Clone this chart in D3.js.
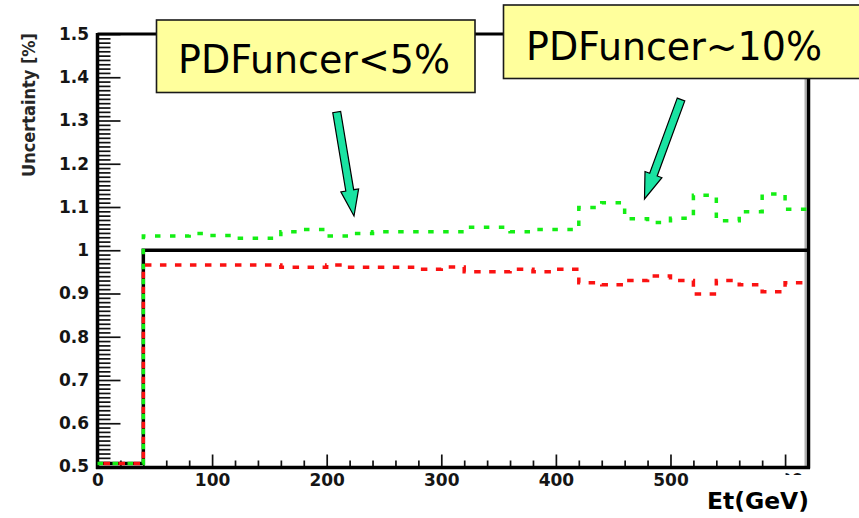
<!DOCTYPE html>
<html>
<head>
<meta charset="utf-8">
<script src="https://cdn.jsdelivr.net/npm/d3@7"></script>
<style>
  html, body { margin: 0; padding: 0; background: #fff; }
  svg { display: block; }
</style>
</head>
<body>
<svg id="chart" width="859" height="518"></svg>
<script>
// Lower edges of the 20 GeV Et bins
const etBins = [0, 20, 40, 60, 80, 100, 120, 140, 160, 180, 200, 220, 240, 260, 280, 300,
                320, 340, 360, 380, 400, 420, 440, 460, 480, 500, 520, 540, 560, 580, 600];
const etMax = 620;

// Central value (ratio = 1 above threshold)
const central = [0, 0, 1, 1, 1, 1, 1, 1, 1, 1, 1, 1, 1, 1, 1, 1,
                 1, 1, 1, 1, 1, 1, 1, 1, 1, 1, 1, 1, 1, 1, 1];

// Upper PDF uncertainty band
const upper = [0, 0, 1.033, 1.033, 1.039, 1.034, 1.028, 1.028, 1.043, 1.048, 1.033, 1.039,
               1.043, 1.043, 1.043, 1.043, 1.053, 1.053, 1.043, 1.048, 1.048, 1.099, 1.110,
               1.073, 1.064, 1.074, 1.127, 1.068, 1.089, 1.130, 1.095];

// Lower PDF uncertainty band
const lower = [0, 0, 0.966, 0.966, 0.966, 0.966, 0.966, 0.966, 0.9605, 0.9605, 0.966, 0.9605,
               0.9605, 0.9605, 0.956, 0.961, 0.9505, 0.9505, 0.956, 0.9505, 0.956, 0.925, 0.920,
               0.930, 0.9405, 0.930, 0.899, 0.930, 0.920, 0.904, 0.925];

const xMajorTicks = [0, 100, 200, 300, 400, 500, 600];
const yMajorTicks = [0.5, 0.6, 0.7, 0.8, 0.9, 1, 1.1, 1.2, 1.3, 1.4, 1.5];

const xTitle = "Et(GeV)";
const yTitle = "Uncertainty [%]";
const notes = ["PDFuncer<5%", "PDFuncer~10%"];

const svg = d3.select("#chart");

const x = d3.scaleLinear().domain([0, etMax]).range([97.5, 808]);
const y = d3.scaleLinear().domain([0.5, 1.5]).range([466.5, 34]);
// underflow is drawn just above the bottom edge of the frame
const yHist = v => Math.min(y(v), y(0.5) - 3);

const tickFont = "'DejaVu Sans', Verdana, sans-serif";

// ---- axes ----
const xMinor = d3.range(0, etMax + 1, 20).filter(v => v % 100 !== 0);
const yMinor = d3.range(50, 151, 1).map(v => v / 100).filter(v => Math.round(v * 100) % 10 !== 0);

const gx = svg.append("g").attr("transform", `translate(0,${y(0.5)})`);
gx.append("g").call(d3.axisBottom(x).tickValues(xMinor).tickSizeInner(-6).tickSizeOuter(0).tickFormat(""));
gx.append("g").attr("class", "xmajor")
  .call(d3.axisBottom(x).tickValues(xMajorTicks).tickSizeInner(-12).tickSizeOuter(0).tickPadding(7.5));

const gy = svg.append("g").attr("transform", `translate(${x(0)},0)`);
gy.append("g").call(d3.axisLeft(y).tickValues(yMinor).tickSizeInner(-13).tickSizeOuter(0).tickFormat(""));
gy.append("g").call(d3.axisLeft(y).tickValues(yMajorTicks).tickSizeInner(-23).tickSizeOuter(0)
  .tickPadding(8.5).tickFormat(d3.format("~g")));

svg.selectAll(".domain").remove();
svg.selectAll(".tick line").attr("stroke", "#111").attr("stroke-width", 1.7);
svg.selectAll(".tick text")
  .attr("font-family", tickFont)
  .attr("font-weight", "bold")
  .attr("font-size", 17)
  .attr("fill", "#151515");

// the last x label sits behind the axis-title panel; only its top edge shows
svg.append("clipPath").attr("id", "lastLabelClip")
  .append("rect").attr("x", 0).attr("y", 0).attr("width", 859).attr("height", 475);
gx.select(".xmajor").selectAll(".tick").filter(d => d === 600).select("text")
  .attr("clip-path", "url(#lastLabelClip)")
  .attr("transform", `translate(0,${-y(0.5)})`)
  .attr("y", y(0.5) + 7.5);

// ---- frame ----
const frame = svg.append("g").attr("stroke", "#000").attr("fill", "none");
frame.append("line").attr("x1", 805.5).attr("x2", 805.5).attr("y1", y(1.5)).attr("y2", y(0.5))
  .attr("stroke", "#b0b0b0").attr("stroke-width", 2);
frame.append("line").attr("x1", x(0)).attr("x2", 810).attr("y1", y(1.5)).attr("y2", y(1.5)).attr("stroke-width", 3);
frame.append("line").attr("x1", 808.5).attr("x2", 808.5).attr("y1", y(1.5)).attr("y2", y(0.5) + 2).attr("stroke-width", 3.5);
frame.append("line").attr("x1", x(0) - 1.5).attr("x2", 810).attr("y1", y(0.5) + 1).attr("y2", y(0.5) + 1).attr("stroke-width", 3.5);
frame.append("line").attr("x1", x(0)).attr("x2", x(0)).attr("y1", y(1.5) - 1).attr("y2", y(0.5) + 2.5).attr("stroke-width", 3.5);

// ---- histogram outlines ----
function stepPath(values) {
  const pts = [];
  values.forEach((v, i) => {
    const lo = etBins[i];
    const hi = i + 1 < etBins.length ? etBins[i + 1] : etMax;
    pts.push([x(lo), yHist(v)], [x(hi), yHist(v)]);
  });
  return d3.line()(pts);
}

svg.append("path")
  .attr("d", stepPath(central))
  .attr("fill", "none").attr("stroke", "#000").attr("stroke-width", 3.5);

svg.append("path")
  .attr("d", stepPath(upper))
  .attr("fill", "none").attr("stroke", "#14ee14").attr("stroke-width", 3.5)
  .attr("stroke-dasharray", "5.5,9.5");

svg.append("path")
  .attr("d", stepPath(lower))
  .attr("fill", "none").attr("stroke", "#fa1212").attr("stroke-width", 3.5)
  .attr("stroke-dasharray", "6.5,8.5").attr("stroke-dashoffset", -6);

// ---- axis titles ----
svg.append("rect").attr("x", 700).attr("y", 475).attr("width", 159).attr("height", 43).attr("fill", "#fff");
svg.append("text")
  .attr("x", 809).attr("y", 508.5)
  .attr("text-anchor", "end")
  .attr("font-family", tickFont).attr("font-weight", "bold").attr("font-size", 23)
  .attr("textLength", 102).attr("lengthAdjust", "spacingAndGlyphs")
  .text(xTitle);

svg.append("text")
  .attr("transform", "translate(35,33) rotate(-90)")
  .attr("text-anchor", "end")
  .attr("font-family", tickFont).attr("font-weight", "bold").attr("font-size", 17.5)
  .attr("fill", "#262626")
  .attr("textLength", 144).attr("lengthAdjust", "spacingAndGlyphs")
  .text(yTitle);

// ---- annotation callouts ----
function blockArrow(tail, tip, shaftW, headW, headL) {
  const dx = tip[0] - tail[0], dy = tip[1] - tail[1];
  const len = Math.hypot(dx, dy);
  const ux = dx / len, uy = dy / len;
  const nx = -uy, ny = ux;
  const bx = tip[0] - ux * headL, by = tip[1] - uy * headL;
  const p = (cx, cy, w) => [cx + nx * w / 2, cy + ny * w / 2];
  return [
    p(tail[0], tail[1], shaftW), p(bx, by, shaftW), p(bx, by, headW), tip,
    p(bx, by, -headW), p(bx, by, -shaftW), p(tail[0], tail[1], -shaftW)
  ];
}

const callouts = [
  { box: [156.5, 20, 318.5, 72.5], text: notes[0], tx: 178, ty: 73.3, tw: 272,
    tail: [336.7, 112], tip: [354, 216] },
  { box: [503.5, 5, 370, 73.5], text: notes[1], tx: 526, ty: 59.5, tw: 296,
    tail: [681, 99.5], tip: [644.5, 199] }
];

callouts.forEach(c => {
  svg.append("rect")
    .attr("x", c.box[0]).attr("y", c.box[1]).attr("width", c.box[2]).attr("height", c.box[3])
    .attr("fill", "#ffff9c").attr("stroke", "#1a1a1a").attr("stroke-width", 1.6);
  svg.append("text")
    .attr("x", c.tx).attr("y", c.ty)
    .attr("font-family", "'DejaVu Sans', Verdana, sans-serif").attr("font-size", 39)
    .attr("fill", "#000")
    .attr("textLength", c.tw).attr("lengthAdjust", "spacingAndGlyphs")
    .text(c.text);
  svg.append("polygon")
    .attr("points", blockArrow(c.tail, c.tip, 8, 18, 26).map(p => p.join(",")).join(" "))
    .attr("fill", "#1ae3a2").attr("stroke", "#000").attr("stroke-width", 1.2)
    .attr("stroke-linejoin", "miter");
});
</script>
</body>
</html>
